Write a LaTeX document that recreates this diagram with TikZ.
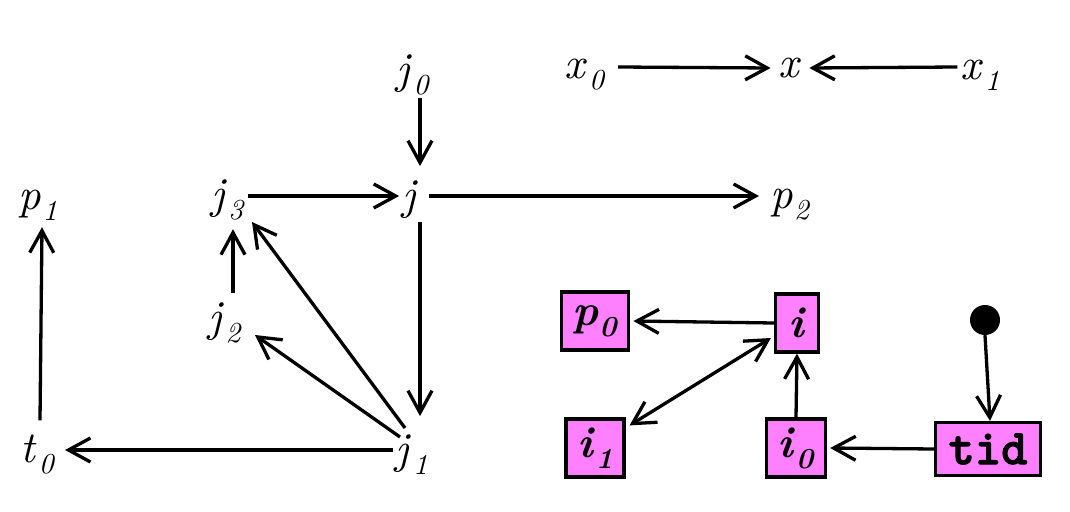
\documentclass[tikz,border=0pt]{standalone}
\usepackage{fontspec}
\setmainfont{lmroman10}[Extension=.otf,UprightFont=*-regular,ItalicFont=*-italic,BoldFont=*-bold,BoldItalicFont=*-bolditalic]
\newfontfamily\tidfont{lmmonolt10-bold}[Extension=.otf,FakeBold=2]
\usetikzlibrary{arrows.meta}
\newcommand\lbl[2]{\textit{#1}\kern1.5pt\raisebox{-0.25em}{\fontsize{29}{32}\selectfont\textit{#2}}}
\newcommand\blbl[2]{\textbf{\textit{#1}\kern1pt\raisebox{-0.25em}{\fontsize{29}{32}\selectfont\textbf{\textit{#2}}}}}
\begin{document}
\begin{tikzpicture}[x=1pt,y=-1pt,
  lab/.style={inner sep=0pt,outer sep=3pt,font=\fontsize{44}{50}\selectfont},
  box/.style={draw=black,line width=3.2pt,fill=boxpink,inner xsep=11pt,inner ysep=0pt,minimum width=43pt,minimum height=58pt,font=\fontsize{44}{50}\selectfont},
  arr/.style={line width=3.3pt,-{Straight Barb[length=22pt,width=24pt]}},
  arrb/.style={line width=3.3pt,{Straight Barb[length=22pt,width=24pt]}-{Straight Barb[length=22pt,width=24pt]}}]
\definecolor{boxpink}{HTML}{FF80FF}
\useasboundingbox (0,0) rectangle (1070,511);
% labels
\node[lab] (j0) at (413,75) {\lbl{j}{0}};
\node[lab] (x0) at (585,75) {\lbl{x}{0}};
\node[lab] (x)  at (790,68) {\textit{x}};
\node[lab] (x1) at (980,75) {\lbl{x}{1}};
\node[lab] (p1) at (38,205) {\lbl{p}{1}};
\node[lab] (j3) at (228,200) {\lbl{j}{3}};
\node[lab] (j)  at (410,200) {\textit{j}};
\node[lab] (p2) at (790,205) {\lbl{p}{2}};
\node[lab] (j2) at (225,323) {\lbl{j}{2}};
\node[lab] (j1) at (412,455) {\lbl{j}{1}};
\node[lab] (t0) at (38,455) {\lbl{t}{0}};
% boxes
\node[box] (p0) at (595,321) {\blbl{p}{0}};
\node[box] (i)  at (797,323) {\textbf{\textit{i}}};
\node[box] (i1) at (595,448) {\blbl{i}{1}};
\node[box] (i0) at (796,448) {\blbl{i}{0}};
\node[box,inner xsep=13pt,minimum height=53pt,font=\fontsize{50}{56}\selectfont\tidfont] (tid) at (988,449) {tid};
\node[circle,fill=black,inner sep=0pt,minimum size=30pt] (dot) at (985,320) {};
% connectors
\draw[arr] ([xshift=7pt]j0.south) -- ([xshift=10pt,yshift=12pt]j.north);
\draw[arr] ([xshift=10pt,yshift=8pt]x0.east) -- ([xshift=-5pt]x.west);
\draw[arr] ([yshift=8pt]x1.west) -- ([xshift=5pt]x.east);
\draw[arr] ([yshift=4pt]j3.east) -- ([yshift=4pt]j.west);
\draw[arr] ([xshift=8pt,yshift=4pt]j.east) -- ([xshift=-8pt,yshift=9pt]p2.west);
\draw[arr] ([xshift=10pt]j.south) -- ([xshift=8pt,yshift=16pt]j1.north);
\draw[arr] ([xshift=8pt,yshift=7pt]j2.north) -- ([xshift=5pt,yshift=-6pt]j3.south);
\draw[arr] ([xshift=-12pt,yshift=18pt]j1.center) -- ([xshift=30pt,yshift=-12pt]j2.center);
\draw[arr] ([xshift=-7pt,yshift=27pt]j1.center) -- ([xshift=24pt,yshift=-22pt]j3.center);
\draw[arr] ([yshift=5pt]j1.west) -- ([xshift=7pt,yshift=5pt]t0.east);
\draw[arr] ([xshift=2pt,yshift=12pt]t0.north) -- ([xshift=4pt,yshift=-4pt]p1.south);
\draw[arr] (i.west) -- ([xshift=3pt]p0.east);
\draw[arr] (i0.north) -- (i.south);
\draw[arr] (tid.west) -- ([xshift=3pt]i0.east);
\draw[arr] (dot.south) -- ([xshift=2pt]tid.north);
\draw[arrb] ([xshift=-3pt,yshift=-15pt]i.west) -- ([xshift=4pt,yshift=-8pt]i1.north east);
\end{tikzpicture}
\end{document}
